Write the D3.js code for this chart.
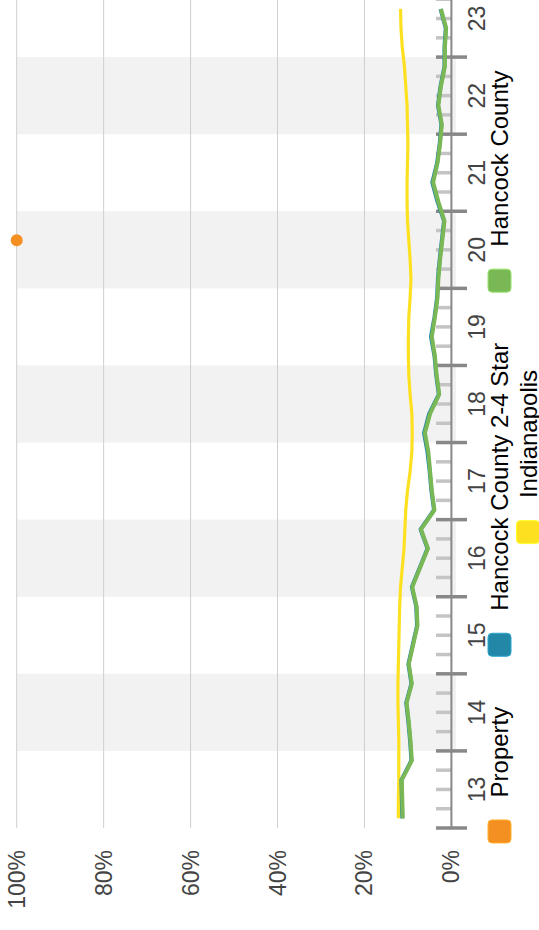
<!DOCTYPE html>
<html>
<head>
<meta charset="utf-8">
<script src="https://cdn.jsdelivr.net/npm/d3@7"></script>
<style>
  body { margin: 0; background: #fff; }
  svg { display: block; font-family: "Liberation Sans", Arial, sans-serif; }
</style>
</head>
<body>
<div id="chart"></div>
<script>
// 季度数据：13Q1 ... 23Q3
const years = [13, 14, 15, 16, 17, 18, 19, 20, 21, 22, 23];
const quarters = d3.range(43).map(i => 13 + (i + 0.5) / 4);   // 每个季度的中点
const valueTicks = [0, 0.2, 0.4, 0.6, 0.8, 1];

const indianapolis = [12.2, 12.2, 12.1, 12.1, 12.1, 12.2, 12.3, 12.3, 12.2, 12.1, 12.0, 11.9, 11.7, 11.3,
  10.9, 10.7, 10.5, 10.1, 9.5, 9.1, 9.0, 9.1, 9.5, 9.8, 9.9, 9.9, 9.8, 9.5, 9.3,
  9.5, 9.8, 10.1, 10.2, 10.2, 10.1, 10.0, 10.1, 10.2, 10.5, 10.8, 11.3, 11.6, 11.7];
const hancock = [11.2, 11.3, 11.4, 9.1, 9.4, 9.8, 10.3, 9.1, 9.8, 8.8, 7.8, 8.0, 9.0, 7.2,
  5.4, 7.0, 3.9, 4.5, 4.9, 5.3, 6.1, 4.9, 2.8, 3.4, 3.8, 4.5, 3.8, 3.2, 3.0,
  2.6, 2.1, 1.6, 3.0, 4.2, 3.2, 2.6, 2.2, 3.0, 2.4, 1.5, 1.5, 1.2, 2.4];
const hancock24 = [11.3, 11.4, 11.5, 9.2, 9.5, 9.9, 10.4, 9.2, 9.9, 8.9, 7.9, 8.1, 9.1, 7.3,
  5.5, 7.1, 4.0, 4.6, 5.0, 5.5, 6.3, 5.1, 2.9, 3.5, 3.9, 4.7, 3.9, 3.3, 3.1,
  2.7, 2.2, 1.7, 3.2, 4.4, 3.3, 2.7, 2.3, 3.1, 2.5, 1.6, 1.6, 1.3, 2.5];
const property = quarters.map((q, i) => i === 30 ? 100 : null);   // 只有 20Q3 一个点

const series = [
  { name: 'Property', color: '#f48f22', values: property },
  { name: 'Hancock County 2-4 Star', color: '#2387a7', values: hancock24 },
  { name: 'Hancock County', color: '#7ab856', values: hancock },
  { name: 'Indianapolis', color: '#fde020', values: indianapolis }
];

const W = 930, H = 539;   // 原图横向尺寸，整体逆时针旋转 90°
const svg = d3.select('#chart').append('svg')
  .attr('width', H)
  .attr('height', W);
const g = svg.append('g').attr('transform', `translate(0,${W}) rotate(-90)`);

const x = d3.scaleLinear().domain([13, 24]).range([102, 950]);
const y = d3.scaleLinear().domain([0, 1]).range([451.4, 16.7]);

// 隔年灰色背景
g.selectAll('.band')
  .data(years.filter(d => d % 2 === 0))
  .enter().append('rect')
  .attr('x', d => x(d))
  .attr('width', d => x(d + 1) - x(d))
  .attr('y', y(1))
  .attr('height', 456 - y(1))
  .attr('fill', '#f2f2f2');

// 网格线
g.selectAll('.grid')
  .data(valueTicks.slice(1))
  .enter().append('line')
  .attr('x1', x(13)).attr('x2', x(24))
  .attr('y1', d => y(d)).attr('y2', d => y(d))
  .attr('stroke', '#cfcfcf')
  .attr('stroke-width', 1);

// 纵轴刻度文字
g.selectAll('.ylab')
  .data(valueTicks)
  .enter().append('text')
  .attr('x', 80)
  .attr('y', d => y(d))
  .attr('text-anchor', 'end')
  .attr('dominant-baseline', 'central')
  .style('font-size', '23px')
  .style('fill', '#444')
  .text(d3.format('.0%'));

// 横轴：小刻度（季度）
const minor = d3.range(13, 24, 0.25).filter(d => Math.abs(d - Math.round(d)) > 0.01);
g.selectAll('.minor')
  .data(minor)
  .enter().append('line')
  .attr('x1', d => x(d)).attr('x2', d => x(d))
  .attr('y1', 436).attr('y2', y(0))
  .attr('stroke', '#c4c4c4')
  .attr('stroke-width', 3.5);

g.append('line')
  .attr('x1', x(13)).attr('x2', x(24))
  .attr('y1', y(0)).attr('y2', y(0))
  .attr('stroke', '#888')
  .attr('stroke-width', 2);

// 大刻度（年）
g.selectAll('.major')
  .data(years.concat([24]))
  .enter().append('line')
  .attr('x1', d => x(d)).attr('x2', d => x(d))
  .attr('y1', 436).attr('y2', 467)
  .attr('stroke', '#888')
  .attr('stroke-width', 3.5);

g.selectAll('.xlab')
  .data(years)
  .enter().append('text')
  .attr('x', d => x(d + 0.5))
  .attr('y', 485)
  .attr('text-anchor', 'middle')
  .style('font-size', '23px')
  .style('fill', '#444')
  .text(d => d);

// 折线
const line = d3.line()
  .defined(d => d[1] !== null)
  .x(d => x(d[0]))
  .y(d => y(d[1] / 100));

[series[3], series[1], series[2]].forEach(s => {
  g.append('path')
    .datum(quarters.map((q, i) => [q, s.values[i]]))
    .attr('d', line)
    .attr('fill', 'none')
    .attr('stroke', s.color)
    .attr('stroke-width', s.name === 'Indianapolis' ? 3.2 : 4)
    .attr('stroke-linejoin', 'round');
});

// Property 单点
g.selectAll('.dot')
  .data(quarters.map((q, i) => [q, property[i]]).filter(d => d[1] !== null))
  .enter().append('circle')
  .attr('cx', d => x(d[0]))
  .attr('cy', d => y(d[1] / 100))
  .attr('r', 6)
  .attr('fill', series[0].color);

// 图例：两行居中
const rows = [series.slice(0, 3), series.slice(3)];
const rowBase = [508, 536.5];
const sq = 24, gapIn = 22, gapOut = 50, centerX = 473;
rows.forEach((items, r) => {
  const row = g.append('g');
  let cx = 0;
  items.forEach((s, k) => {
    if (k > 0) cx += gapOut;
    row.append('rect')
      .attr('x', cx + 0.5).attr('y', rowBase[r] - 20)
      .attr('width', sq - 1).attr('height', sq - 1)
      .attr('rx', 4)
      .attr('fill', s.color)
      .attr('stroke', d3.color(s.color).brighter(0.6))
      .attr('stroke-width', 1);
    const t = row.append('text')
      .attr('x', cx + sq + gapIn)
      .attr('y', rowBase[r])
      .style('font-size', '24px')
      .style('fill', '#000')
      .text(s.name);
    cx += sq + gapIn + t.node().getComputedTextLength();
  });
  row.attr('transform', `translate(${centerX - cx / 2},0)`);
});
</script>
</body>
</html>
